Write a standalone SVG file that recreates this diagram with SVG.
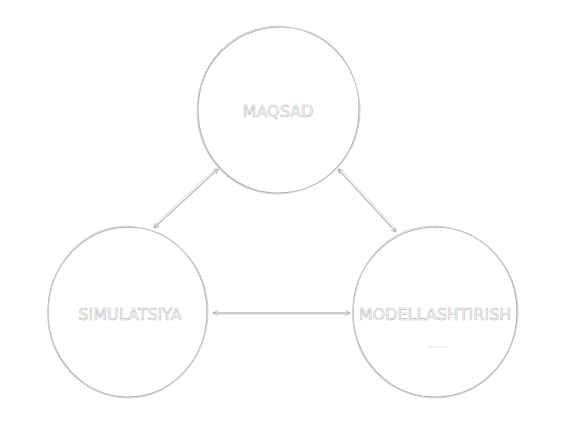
<svg xmlns="http://www.w3.org/2000/svg" width="561" height="445" viewBox="0 0 561 445">
<defs>
<style>
.c1{fill:none;stroke:#b0b0b0;stroke-width:1.2}
.c2{fill:none;stroke:#cfcfcf;stroke-width:0.9}
.lbl{font-family:"DejaVu Sans",Verdana,sans-serif;font-size:16px;fill:#fff;stroke:#bdbdbd;stroke-width:0.6;text-anchor:middle}
.e1{fill:none;stroke:#bcbcbc;stroke-width:1.3}
.e2{fill:none;stroke:#d4d4d4;stroke-width:0.8}
</style>
<marker id="ah" viewBox="0 0 10 10" refX="9" refY="5" markerWidth="6" markerHeight="6" orient="auto-start-reverse" markerUnits="userSpaceOnUse">
<path d="M1,1 L9,5 L1,9" fill="none" stroke="#a8a8a8" stroke-width="1.4"/>
</marker>
</defs>
<rect width="561" height="445" fill="#fff"/>
<g id="connectors">
<line class="e1" x1="218" y1="169" x2="154" y2="228" marker-start="url(#ah)" marker-end="url(#ah)"/>
<line class="e2" x1="216" y1="168" x2="153" y2="226"/>
<line class="e1" x1="338" y1="169" x2="396" y2="232" marker-start="url(#ah)" marker-end="url(#ah)"/>
<line class="e2" x1="340" y1="168" x2="397" y2="230"/>
<line class="e1" x1="213" y1="313" x2="350" y2="313" marker-start="url(#ah)" marker-end="url(#ah)"/>
<line class="e2" x1="214" y1="314.2" x2="349" y2="314.2"/>
</g>
<g id="maqsad">
<path class="c1" d="M278,27 C325,26 360,64 359,110 C359,157 323,193 278,193 C232,193 198,156 198,110 C198,63 233,28 280,27"/>
<path class="c2" d="M276,26 C323,27 358,62 360,109 C361,156 324,192 279,194 C233,195 197,158 197,111 C197,64 231,27 277,26"/>
<text class="lbl" x="278" y="117">MAQSAD</text>
</g>
<g id="simulatsiya">
<path class="c1" d="M128,227 C172,227 207,265 207,312 C207,359 172,397 128,397 C84,397 48,359 48,312 C48,265 84,227 130,227"/>
<path class="c2" d="M127,226 C171,228 208,264 208,311 C208,358 172,398 129,398 C83,398 47,360 48,313 C49,264 83,226 127,226"/>
<text class="lbl" x="130" y="320">SIMULATSIYA</text>
</g>
<g id="modellashtirish">
<path class="c1" d="M435,227 C481,227 517,265 517,312 C517,359 481,397 435,397 C389,397 353,359 353,312 C353,265 389,227 437,227"/>
<path class="c2" d="M434,226 C480,228 518,264 518,311 C518,358 482,398 436,398 C388,398 352,360 353,313 C354,264 388,226 434,226"/>
<text class="lbl" x="435" y="320">MODELLASHTIRISH</text>
<line x1="428" y1="347" x2="448" y2="347" stroke="#e6e6e6" stroke-width="1"/>
</g>
</svg>
